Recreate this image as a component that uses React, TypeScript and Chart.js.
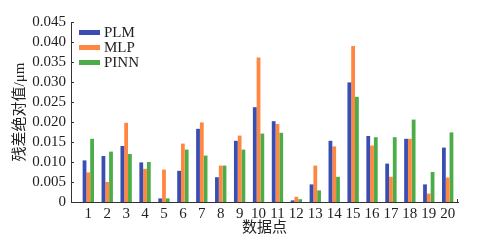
import { useEffect, useRef } from 'react';
import { Chart, registerables } from 'chart.js';
Chart.register(...registerables);

const categories = [1, 2, 3, 4, 5, 6, 7, 8, 9, 10, 11, 12, 13, 14, 15, 16, 17, 18, 19, 20];
const plm = [0.0104, 0.0115, 0.0140, 0.0099, 0.0009, 0.0078, 0.0183, 0.0062, 0.0153, 0.0237, 0.0202, 0.0004, 0.0044, 0.0153, 0.0299, 0.0165, 0.0096, 0.0158, 0.0044, 0.0136];
const mlp = [0.0074, 0.0050, 0.0198, 0.0083, 0.0081, 0.0146, 0.0199, 0.0091, 0.0166, 0.0361, 0.0195, 0.0013, 0.0091, 0.0139, 0.0390, 0.0141, 0.0063, 0.0158, 0.0021, 0.0061];
const pinn = [0.0158, 0.0126, 0.0120, 0.0100, 0.0009, 0.0131, 0.0116, 0.0091, 0.0131, 0.0171, 0.0173, 0.0007, 0.0029, 0.0063, 0.0263, 0.0162, 0.0162, 0.0206, 0.0075, 0.0174];
const seriesNames = ['PLM', 'MLP', 'PINN'];
const seriesColors = ['rgb(58,78,178)', 'rgb(255,135,65)', 'rgb(76,172,72)'];
const yTicks = [0, 0.005, 0.01, 0.015, 0.02, 0.025, 0.03, 0.035, 0.04, 0.045];
const yTitle = '残差绝对值/μm';
const xTitle = '数据点';

const FONT_FAMILY = '"Liberation Serif", "Noto Sans CJK SC", serif';
const AXIS_COLOR = '#333';

const decorPlugin = {
  id: 'decor',
  afterDraw(chart: any) {
    const ctx = chart.ctx;
    const y = chart.scales.y;
    const area = chart.chartArea;
    ctx.save();
    ctx.strokeStyle = AXIS_COLOR;
    ctx.lineWidth = 1;
    // inward y ticks
    y.ticks.forEach((t: any) => {
      const py = Math.round(y.getPixelForValue(t.value)) + 0.5;
      ctx.beginPath();
      ctx.moveTo(area.left, py);
      ctx.lineTo(area.left + 3, py);
      ctx.stroke();
    });
    // right end tick on x axis
    const rx = Math.round(area.right) - 0.5;
    ctx.beginPath();
    ctx.moveTo(rx, area.bottom);
    ctx.lineTo(rx, area.bottom - 3);
    ctx.stroke();
    // legend
    ctx.font = '15px ' + FONT_FAMILY;
    ctx.textBaseline = 'middle';
    ctx.textAlign = 'left';
    chart.data.datasets.forEach((ds: any, i: number) => {
      const cy = 32.5 + i * 15;
      ctx.fillStyle = ds.backgroundColor;
      ctx.fillRect(79, cy - 2.5, 21, 5);
      ctx.fillStyle = '#222';
      ctx.fillText(ds.label, 104, cy + 0.5);
    });
    ctx.restore();
  },
};

export default function App() {
  const ref = useRef<HTMLCanvasElement>(null);
  useEffect(() => {
    document.body.style.margin = '0';
    const series = [plm, mlp, pinn];
    const chart = new Chart(ref.current as HTMLCanvasElement, {
      type: 'bar',
      data: {
        datasets: series.map((s, i) => ({
          label: seriesNames[i],
          data: categories.map((c, j) => ({ x: c, y: s[j] })),
          backgroundColor: seriesColors[i],
          borderWidth: 0,
          categoryPercentage: 0.6,
          barPercentage: 1,
        })),
      },
      options: {
        animation: false,
        responsive: false,
        layout: { padding: { left: 0, right: 20, top: 22, bottom: 0 } },
        plugins: { legend: { display: false }, tooltip: { enabled: false } },
        scales: {
          x: {
            type: 'linear',
            min: 0.085,
            max: 20.545,
            offset: false,
            grid: { display: false, drawTicks: false },
            border: { display: true, color: AXIS_COLOR, width: 1 },
            afterBuildTicks: (s: any) => {
              s.ticks = categories.map((v) => ({ value: v }));
            },
            afterFit: (s: any) => {
              s.height = 38;
            },
            ticks: {
              autoSkip: false,
              maxRotation: 0,
              padding: 3,
              color: '#222',
              font: { family: FONT_FAMILY, size: 15 },
              callback: (v: any) => String(v),
            },
            title: {
              display: true,
              text: xTitle,
              color: '#222',
              font: { family: FONT_FAMILY, size: 15 },
              padding: { top: 0, bottom: 3 },
            },
          },
          y: {
            min: 0,
            max: 0.045,
            grid: { display: false, drawTicks: false },
            border: { display: true, color: AXIS_COLOR, width: 1 },
            afterBuildTicks: (s: any) => {
              s.ticks = yTicks.map((v) => ({ value: v }));
            },
            afterFit: (s: any) => {
              s.width = 71;
            },
            ticks: {
              autoSkip: false,
              padding: 5,
              color: '#222',
              font: { family: FONT_FAMILY, size: 15 },
              callback: (v: any) => (v === 0 ? '0' : Number(v).toFixed(3)),
            },
            title: {
              display: true,
              text: yTitle,
              color: '#222',
              font: { family: FONT_FAMILY, size: 15 },
              padding: { top: 11, bottom: 0 },
            },
          },
        },
      },
      plugins: [decorPlugin],
    } as any);
    return () => chart.destroy();
  }, []);
  return <canvas ref={ref} width={478} height={240} style={{ display: 'block' }} />;
}
